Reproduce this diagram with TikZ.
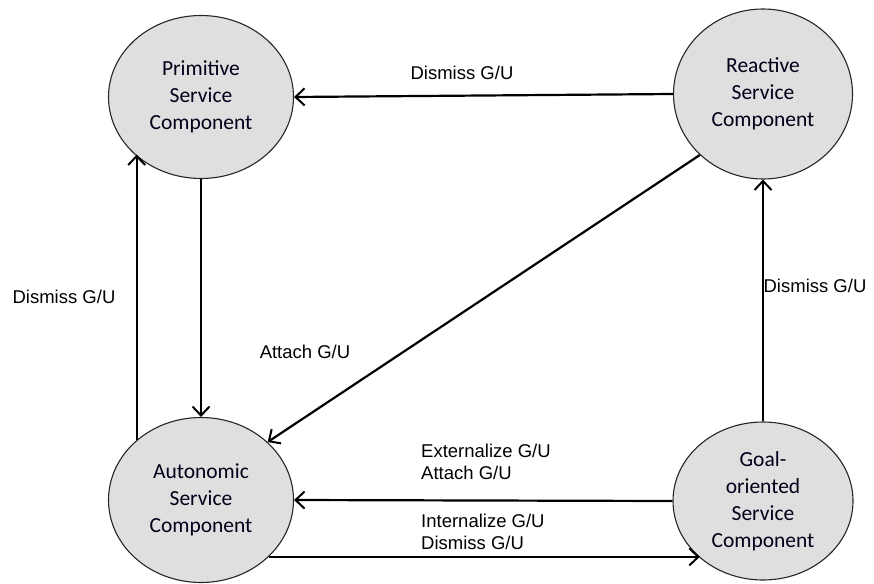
\documentclass[tikz,border=0pt]{standalone}
\usepackage{fontspec}
\setmainfont{Liberation Sans}
\newfontfamily\nodefont{Carlito}
\usetikzlibrary{shapes.geometric,arrows.meta}
\begin{document}
\begin{tikzpicture}[x=1pt,y=-1pt,
  comp/.style={ellipse, draw=black!85, line width=1.1pt, fill=gray!25, inner sep=0pt,
    font=\nodefont\fontsize{21.5}{27}\selectfont, align=center, text=black!90!blue},
  arr/.style={line width=2.2pt, -{Straight Barb[length=9pt,width=17pt,line width=2pt]}},
  lbl/.style={font=\fontsize{18.5}{21.5}\selectfont, inner sep=0pt, align=left}]
\useasboundingbox (0,0) rectangle (874,583);

\node[comp, minimum width=185pt, minimum height=163pt] (prim) at (201,97) {Primitive\\Service\\Component};
\node[comp, minimum width=179pt, minimum height=170pt] (react) at (763,94) {Reactive\\Service\\Component};
\node[comp, minimum width=185pt, minimum height=165pt] (auto) at (201,500) {Autonomic\\Service\\Component};
\node[comp, minimum width=180pt, minimum height=158pt] (goal) at (763,501) {Goal-\\oriented\\Service\\Component};

% connectors
\draw[arr] (react.west) -- (prim.east);
\draw[arr] (prim.south) -- (auto.north);
\draw[arr] (auto.137) -- (auto.137 |- prim.221.5);
\draw[arr] (goal.north) -- (react.south);
\draw[arr] (react.224) -- (auto.41);
\draw[arr] (goal.west) -- (auto.east);
\draw[arr] (auto.-40.5) -- (auto.-40.5 -| goal.222.6);

% labels
\node[lbl] (l1) at (462,73) {Dismiss G/U};
\node[lbl] (l2) at (64,297) {Dismiss G/U};
\node[lbl] (l3) at (305,352) {Attach G/U};
\node[lbl] (l4) at (815,286) {Dismiss G/U};
\node[lbl, anchor=west] (l5) at (421,462) {Externalize G/U\\Attach G/U};
\node[lbl, anchor=west] (l6) at (421,532) {Internalize G/U\\Dismiss G/U};
\end{tikzpicture}
\end{document}
